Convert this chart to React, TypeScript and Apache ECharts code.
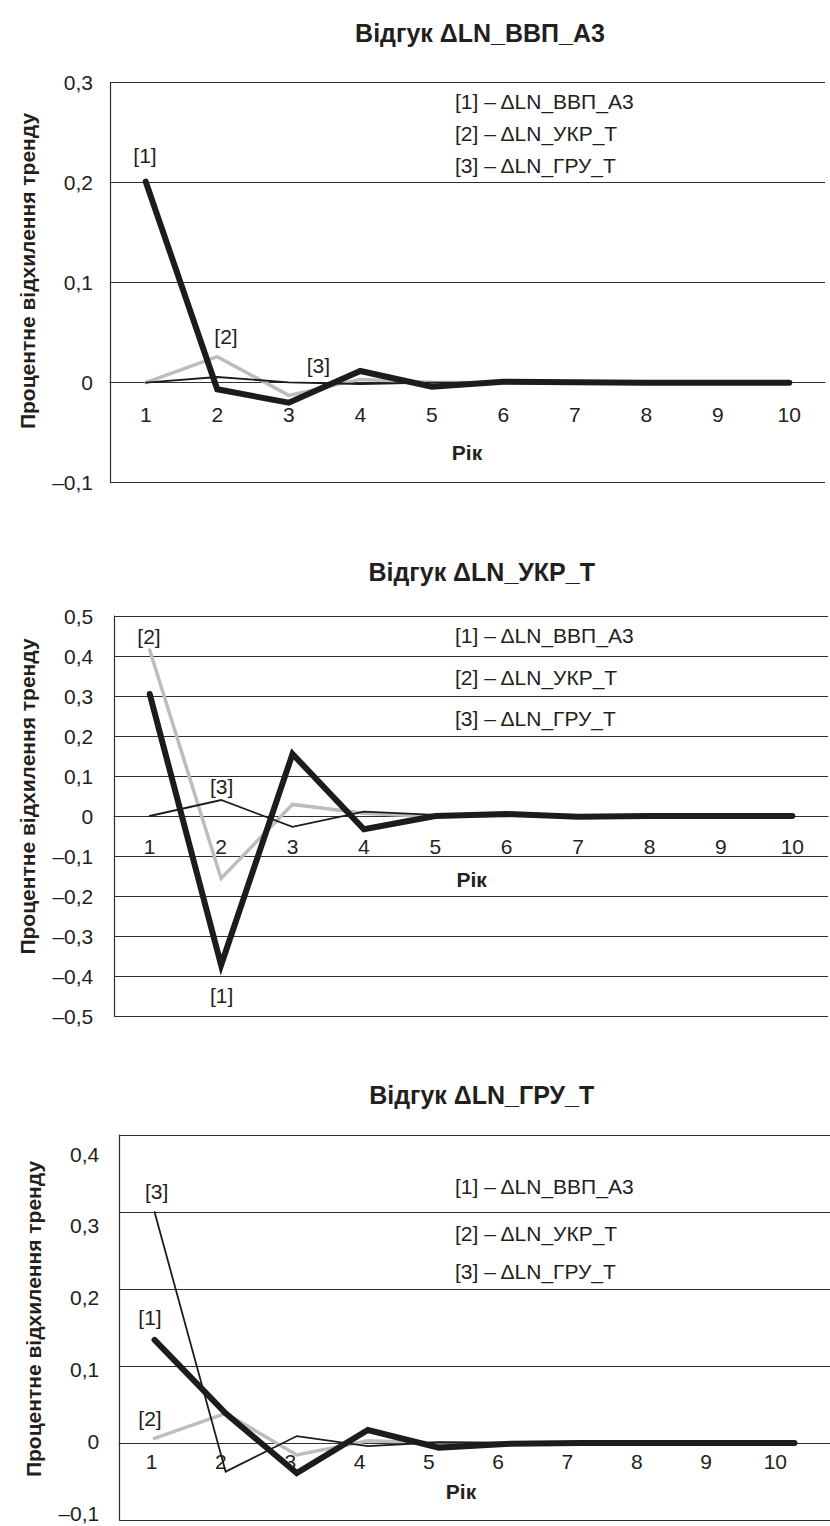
import React, { useEffect, useRef } from "react";
import * as echarts from "echarts";

const years = ["1", "2", "3", "4", "5", "6", "7", "8", "9", "10"];

// Відгук ΔLN_ВВП_А3
const c1_gdp = [0.201, -0.0066, -0.02, 0.0117, -0.004, 0.001, 0.0005, 0, 0, 0];
const c1_ukr = [0, 0.026, -0.0127, 0.0033, 0.0005, 0, 0, 0, 0, 0];
const c1_gru = [0, 0.0057, 0.0003, -0.0013, 0, 0, 0, 0, 0, 0];

// Відгук ΔLN_УКР_Т
const c2_gdp = [0.305, -0.3725, 0.155, -0.033, 0.0, 0.005, -0.002, 0, 0, 0];
const c2_ukr = [0.415, -0.156, 0.029, 0.007, -0.002, 0.001, 0, 0, 0, 0];
const c2_gru = [0, 0.04, -0.027, 0.011, 0.003, 0.008, -0.004, 0, 0, 0];

// Відгук ΔLN_ГРУ_Т
const c3_gdp = [0.134, 0.0385, -0.039, 0.0169, -0.006, -0.001, 0, 0, 0, 0];
const c3_ukr = [0.006, 0.0385, -0.0156, 0.003, 0, 0, 0, 0, 0, 0];
const c3_gru = [0.3, -0.0372, 0.009, -0.004, 0.001, 0, 0, 0, 0, 0];

const titles = ["Відгук ΔLN_ВВП_А3", "Відгук ΔLN_УКР_Т", "Відгук ΔLN_ГРУ_Т"];
const legendLines = ["[1] – ΔLN_ВВП_А3", "[2] – ΔLN_УКР_Т", "[3] – ΔLN_ГРУ_Т"];
const yTitle = "Процентне відхилення тренду";
const xTitle = "Рік";

const FONT = "Liberation Sans";
const TXT = "#231f20";
const GRID_C = "#2e2e2e";

const fmt = (v: number) => {
  if (Math.abs(v) < 1e-9) return "0";
  const s = Math.abs(v).toFixed(1).replace(".", ",");
  return v < 0 ? "–" + s : s;
};

export default function App() {
  const ref = useRef<HTMLDivElement>(null);
  useEffect(() => {
    document.body.style.margin = "0";
    const chart = echarts.init(ref.current!, null, { renderer: "svg" });

    const lbl = { fontFamily: FONT, fontSize: 21, color: TXT };

    const grids = [
      { left: 110, top: 82.7, width: 715, height: 400 },
      { left: 114, top: 616, width: 714, height: 400 },
      { left: 119, top: 1135, width: 720, height: 385 },
      { left: 117, top: 1154, width: 693, height: 359 },
    ];

    // offset: distance of the zero line above the grid bottom (axis sits on zero)
    const mkX = (gi: number, showLabel: boolean, margin: number, showLine: boolean, zeroUp: number) => ({
      type: "category",
      gridIndex: gi,
      data: years,
      boundaryGap: true,
      position: "bottom",
      offset: -zeroUp,
      axisLine: { show: showLine, onZero: false, lineStyle: { color: GRID_C, width: 1.2 } },
      axisTick: { show: false },
      axisLabel: { show: showLabel, margin, ...lbl },
      splitLine: { show: false },
    });
    const mkY = (gi: number, min: number, max: number, showLabel: boolean, margin: number, showLines: boolean) => ({
      type: "value",
      gridIndex: gi,
      min,
      max,
      interval: 0.1,
      axisLine: { show: showLines, lineStyle: { color: GRID_C, width: 1.2 } },
      axisTick: { show: false },
      axisLabel: { show: showLabel, margin, formatter: fmt, ...lbl },
      splitLine: { show: showLines, lineStyle: { color: GRID_C, width: 1.2 } },
    });

    const line = (xi: number, data: number[], kind: number) => {
      const styles = [
        { color: "#1c1c1c", width: 6 },
        { color: "#bdbdbd", width: 3.5 },
        { color: "#1c1c1c", width: 1.8 },
      ];
      return {
        type: "line",
        xAxisIndex: xi,
        yAxisIndex: xi,
        data,
        symbol: "none",
        silent: true,
        z: kind === 1 ? 2 : kind === 0 ? 3 : 4,
        lineStyle: { ...styles[kind], cap: "round", join: "miter" },
      };
    };

    const txt = (x: number, y: number, text: string, opts: any = {}) => ({
      type: "text",
      x,
      y,
      silent: true,
      rotation: opts.rotation || 0,
      style: {
        text,
        fontFamily: FONT,
        fontSize: opts.fontSize || 21,
        fontWeight: opts.bold ? "bold" : "normal",
        fill: TXT,
        align: opts.align || "center",
        verticalAlign: "middle",
      },
    });

    const graphics: any[] = [
      txt(480, 33, titles[0], { bold: true, fontSize: 25 }),
      txt(481.7, 571.7, titles[1], { bold: true, fontSize: 25 }),
      txt(481.7, 1095, titles[2], { bold: true, fontSize: 25 }),
      txt(27, 271, yTitle, { bold: true, rotation: Math.PI / 2 }),
      txt(27, 796.5, yTitle, { bold: true, rotation: Math.PI / 2 }),
      txt(33, 1319, yTitle, { bold: true, rotation: Math.PI / 2 }),
      txt(467, 452.7, xTitle, { bold: true }),
      txt(471.7, 879, xTitle, { bold: true }),
      txt(461, 1491.7, xTitle, { bold: true }),
      // legend-like notes
      txt(455, 101.7, legendLines[0], { align: "left" }),
      txt(455, 133.3, legendLines[1], { align: "left" }),
      txt(455, 165, legendLines[2], { align: "left" }),
      txt(455, 635, legendLines[0], { align: "left" }),
      txt(455, 677.3, legendLines[1], { align: "left" }),
      txt(455, 718.3, legendLines[2], { align: "left" }),
      txt(455, 1186.7, legendLines[0], { align: "left" }),
      txt(455, 1233.3, legendLines[1], { align: "left" }),
      txt(455, 1271.7, legendLines[2], { align: "left" }),
      // line annotations
      txt(145, 155, "[1]"),
      txt(226, 336, "[2]"),
      txt(318.3, 365, "[3]"),
      txt(149, 636.7, "[2]"),
      txt(221.7, 786.7, "[3]"),
      txt(221.7, 995, "[1]"),
      txt(156.7, 1191.7, "[3]"),
      txt(150, 1317.3, "[1]"),
      txt(150, 1418.3, "[2]"),
    ];

    chart.setOption({
      animation: false,
      backgroundColor: "#ffffff",
      grid: grids,
      xAxis: [
        mkX(0, true, 21, true, 100),
        mkX(1, true, 20, true, 200),
        mkX(2, false, 0, true, 77),
        mkX(3, true, 10, false, 71.8),
      ],
      yAxis: [
        mkY(0, -0.1, 0.3, true, 17, true),
        mkY(1, -0.5, 0.5, true, 20.7, true),
        mkY(2, -0.1, 0.4, false, 0, true),
        mkY(3, -0.1, 0.4, true, 17.7, false),
      ],
      series: [
        line(0, c1_ukr, 1),
        line(0, c1_gdp, 0),
        line(0, c1_gru, 2),
        line(1, c2_ukr, 1),
        line(1, c2_gdp, 0),
        line(1, c2_gru, 2),
        line(2, c3_ukr, 1),
        line(2, c3_gdp, 0),
        line(2, c3_gru, 2),
      ],
      graphic: graphics,
    });
    return () => chart.dispose();
  }, []);
  return <div ref={ref} style={{ width: 830, height: 1526, position: "absolute", left: 0, top: 0 }} />;
}
